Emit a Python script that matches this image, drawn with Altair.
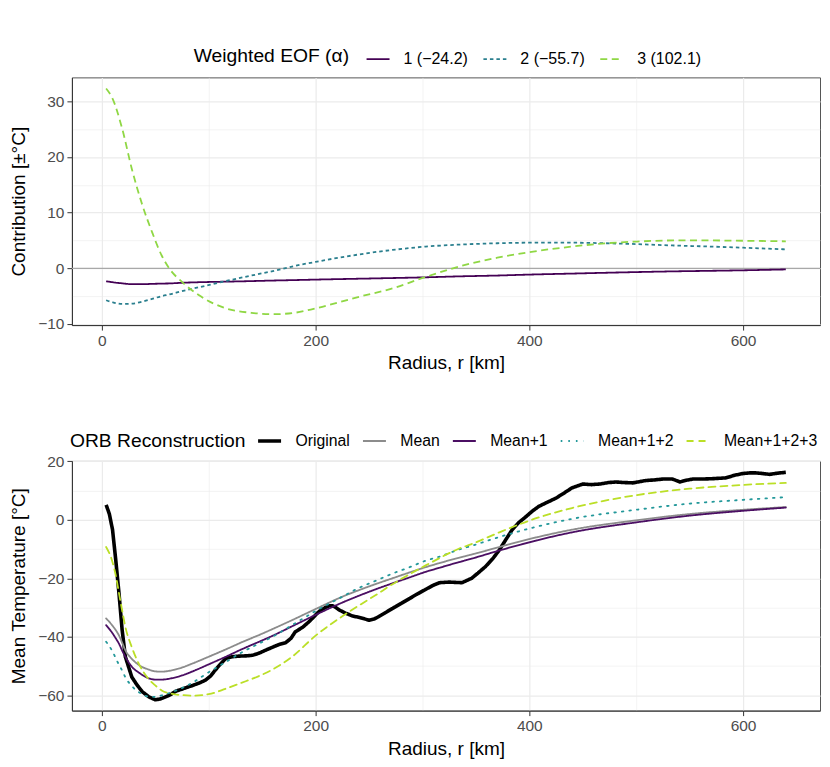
import altair as alt
import pandas as pd

# ---------------- data ----------------
eof_labels = ["1 (−24.2)", "2 (−55.7)", "3 (102.1)"]
radius_eof = [4, 10, 19, 28, 38, 47, 56, 63, 75, 91, 116, 140, 160, 180, 200, 241,
              272, 303, 334, 370, 400, 440, 472, 500, 535, 570, 600, 640]
eof1 = [-2.33, -2.5, -2.7, -2.85, -2.85, -2.8, -2.75, -2.72, -2.6, -2.5, -2.4, -2.3,
        -2.2, -2.12, -2.03, -1.87, -1.75, -1.62, -1.45, -1.3, -1.13, -0.95, -0.8,
        -0.68, -0.55, -0.45, -0.36, -0.2]
eof2 = [-5.74, -6.1, -6.4, -6.35, -6.0, -5.5, -5.0, -4.7, -4.1, -3.4, -2.3, -1.3,
        -0.5, 0.4, 1.15, 2.5, 3.3, 3.9, 4.25, 4.5, 4.6, 4.6, 4.5, 4.35, 4.1, 3.9,
        3.7, 3.4]
eof3 = [32.3, 30.5, 25.1, 17.9, 11.3, 6.5, 2.3, 0.0, -2.45, -4.85, -7.2, -8.0,
        -8.25, -8.0, -7.2, -5.1, -3.6, -1.55, 0.3, 1.9, 2.9, 3.9, 4.5, 4.8, 5.0,
        5.0, 4.95, 4.85]
zero_line = [0]

rec_labels = ["Original", "Mean", "Mean+1", "Mean+1+2", "Mean+1+2+3"]
radius_rec = [4, 10, 13, 16, 19, 22, 28, 35, 44, 50, 56, 66, 75, 85, 100, 116, 130,
              147, 160, 178, 200, 225, 241, 256, 272, 288, 303, 316, 334, 346, 372,
              400, 440, 500, 550, 600, 640]
temp_mean = [-33.7, -36.2, -37.7, -39.5, -42.0, -44.6, -47.5, -49.7, -51.2, -51.8,
             -51.9, -51.4, -50.5, -49.1, -46.8, -44.3, -42.0, -39.4, -37.3, -34.3,
             -30.5, -26.3, -24.0, -22.0, -20.0, -18.0, -16.2, -14.8, -13.0, -11.9,
             -9.3, -6.6, -3.4, -0.2, 1.95, 3.4, 4.35]
temp_mean1 = [-36.0, -38.8, -40.5, -42.3, -44.7, -46.8, -50.2, -52.3, -54.2, -54.6,
              -54.6, -54.1, -53.2, -51.8, -49.4, -46.8, -44.4, -41.7, -39.6, -36.4,
              -32.5, -28.3, -25.9, -23.8, -21.7, -19.7, -17.8, -16.4, -14.5, -13.3,
              -10.5, -7.7, -4.3, -0.9, 1.4, 3.05, 4.15]
temp_mean12 = [-41.7, -45.0, -47.3, -49.5, -51.5, -53.8, -56.8, -59.0, -60.4, -60.5,
               -60.0, -58.8, -57.5, -55.6, -52.1, -48.6, -45.5, -42.3, -39.9, -36.0,
               -31.2, -26.3, -23.2, -20.9, -18.4, -16.2, -14.0, -12.6, -10.2, -8.9,
               -5.9, -3.0, 0.3, 3.4, 5.5, 6.8, 7.7]
temp_mean123 = [-9.3, -14.5, -19.0, -25.0, -31.0, -36.6, -43.5, -49.5, -54.5, -56.6,
                -58.3, -59.5, -59.9, -60.1, -59.6, -57.7, -55.8, -53.4, -51.1, -46.8,
                -39.6, -33.0, -29.2, -25.8, -22.0, -18.6, -15.6, -13.1, -9.9, -8.3,
                -4.3, -0.3, 4.0, 8.4, 10.6, 11.9, 12.6]

radius_orig = [4, 7, 10, 13, 16, 19, 22, 28, 33, 38,
               44, 50, 55, 59, 64, 69, 77, 85, 91, 97,
               102, 106, 111, 116, 122, 128, 135, 141, 147, 153,
               160, 166, 172, 177, 181, 188, 194, 198, 203, 209,
               213, 216, 219, 222, 228, 234, 242, 250, 255, 259,
               265, 272, 280, 288, 295, 303, 310, 316, 325, 337,
               346, 352, 359, 366, 372, 378, 384, 390, 397, 403,
               409, 417, 425, 432, 440, 450, 458, 466, 474, 481,
               489, 497, 503, 509, 517, 525, 534, 541, 547, 553,
               560, 570, 584, 592, 600, 606, 612, 618, 625, 632, 640]
temp_orig = [5.1, 2.0, -3.4, -13.7, -25.0, -37.7, -46.8, -53.7, -56.5, -58.8,
             -60.5, -61.5, -61.2, -60.6, -59.8, -58.6, -57.6, -56.6, -55.8, -54.8,
             -53.3, -51.4, -49.3, -47.4, -46.8, -46.6, -46.5, -46.3, -45.6, -44.6,
             -43.5, -42.6, -42.0, -40.5, -38.3, -36.7, -34.8, -33.3, -31.4, -30.0,
             -29.4, -29.4, -30.0, -30.8, -31.9, -32.8, -33.5, -34.3, -33.9, -33.1,
             -31.8, -30.3, -28.6, -26.9, -25.4, -23.8, -22.4, -21.5, -21.3, -21.5,
             -20.0, -18.2, -16.0, -13.2, -10.3, -6.8, -3.4, -1.0, 1.1, 3.0,
             4.6, 6.0, 7.4, 9.0, 10.9, 12.2, 12.0, 12.2, 12.7, 12.9,
             12.7, 12.6, 13.0, 13.4, 13.6, 13.9, 13.9, 12.9, 13.5, 13.9,
             13.9, 14.0, 14.3, 15.2, 15.8, 16.0, 16.0, 15.8, 15.5, 15.9, 16.2]

x_ticks = [0, 100, 200, 300, 400, 500, 600]
top_y_ticks = [-10, -5, 0, 5, 10, 15, 20, 25, 30]
bot_y_ticks = [-60, -50, -40, -30, -20, -10, 0, 10, 20]

# ---------------- tables ----------------
top_df = pd.concat([
    pd.DataFrame({"r": radius_eof, "v": vals, "s": lab})
    for vals, lab in zip([eof1, eof2, eof3], eof_labels)
], ignore_index=True)
zero_df = pd.DataFrame({"v": zero_line})

orig_df = pd.DataFrame({"r": radius_orig, "v": temp_orig, "s": rec_labels[0]})
smooth_df = pd.concat([
    pd.DataFrame({"r": radius_rec, "v": vals, "s": lab})
    for vals, lab in zip([temp_mean, temp_mean1, temp_mean12, temp_mean123], rec_labels[1:])
], ignore_index=True)

# ---------------- styling helpers ----------------
FONT = "Liberation Sans"
W, H_TOP, H_BOT = 749, 248, 250


def grid_axis(title, values, major, extra=None):
    test = f"datum.value % {major} !== 0"
    kw = dict(
        title=title,
        values=values,
        labelExpr=f"datum.value % {major} === 0 ? datum.label : ''",
        gridWidth={"condition": {"test": test, "value": 0.6}, "value": 1.2},
        tickOpacity={"condition": {"test": test, "value": 0}, "value": 1},
    )
    if extra:
        kw.update(extra)
    return alt.Axis(**kw)


x_enc = alt.X("r:Q", scale=alt.Scale(domain=[-28, 672], nice=False, zero=False),
              axis=grid_axis("Radius, r [km]", x_ticks, 200, {"titlePadding": 5}))

# ---------------- top panel ----------------
top_y = alt.Y("v:Q", scale=alt.Scale(domain=[-10.2, 34.3], nice=False, zero=False),
              axis=grid_axis("Contribution [±°C]", top_y_ticks, 10, {"titlePadding": 9}))

top_legend = alt.Legend(
    title="Weighted EOF (α)", orient="none", legendX=122, legendY=-31,
    direction="horizontal", titleOrient="left", titlePadding=16,
    symbolSize=529, symbolStrokeWidth=1.8, labelOffset=13, columnPadding=11,
    labelFontSize=16, titleFontSize=19.3, titleFontWeight="normal",
    labelColor="black", titleColor="black", titleBaseline="middle",
)

zero_rule = alt.Chart(zero_df).mark_rule(color="#A8A8A8", strokeWidth=1.3).encode(y=top_y)

top_lines = alt.Chart(top_df).mark_line(interpolate="monotone", strokeWidth=1.8, clip=True).encode(
    x=x_enc,
    y=top_y,
    color=alt.Color("s:N", scale=alt.Scale(domain=eof_labels,
                                           range=["#440154", "#2A7F8E", "#8FD744"]),
                    legend=top_legend),
    strokeDash=alt.StrokeDash("s:N", scale=alt.Scale(domain=eof_labels,
                                                     range=[[1, 0], [3.5, 3], [7, 4.5]]),
                              legend=top_legend),
)

top = alt.layer(zero_rule, top_lines).properties(width=W, height=H_TOP)

# ---------------- bottom panel ----------------
bot_y = alt.Y("v:Q", scale=alt.Scale(domain=[-65.2, 20.1], nice=False, zero=False),
              axis=grid_axis("Mean Temperature [°C]", bot_y_ticks, 20, {"titlePadding": 9}))

bot_legend = alt.Legend(
    title="ORB Reconstruction", orient="none", legendX=-2, legendY=-28,
    direction="horizontal", titleOrient="left", titlePadding=16,
    symbolSize=529,
    symbolStrokeWidth={"expr": "datum.label === 'Original' ? 3.6 : 1.8"},
    labelOffset=18, columnPadding=8,
    labelFontSize=15.8, titleFontSize=19.3, titleFontWeight="normal",
    labelColor="black", titleColor="black", titleBaseline="middle",
)

rec_colors = ["#000000", "#8C8C8C", "#4B0F63", "#23989A", "#BBDF27"]
rec_dash = [[1, 0], [1, 0], [1, 0], [1.6, 6], [7, 5]]

color_enc = alt.Color("s:N", scale=alt.Scale(domain=rec_labels, range=rec_colors), legend=bot_legend)
dash_enc = alt.StrokeDash("s:N", scale=alt.Scale(domain=rec_labels, range=rec_dash), legend=bot_legend)

orig_line = alt.Chart(orig_df).mark_line(strokeWidth=3.6, strokeJoin="round", clip=True).encode(
    x=x_enc, y=bot_y, color=color_enc, strokeDash=dash_enc)

smooth_lines = alt.Chart(smooth_df).mark_line(interpolate="monotone", strokeWidth=1.8,
                                              strokeCap="round", clip=True).encode(
    x=x_enc, y=bot_y, color=color_enc, strokeDash=dash_enc)

bottom = alt.layer(orig_line, smooth_lines).properties(width=W, height=H_BOT)

chart = alt.vconcat(top, bottom, spacing=59).resolve_scale(
    color="independent", strokeDash="independent", x="independent", y="independent"
).resolve_legend(color="independent", strokeDash="independent").properties(
    padding={"top": 37, "left": 1, "right": 0, "bottom": 4}
).configure(font=FONT).configure_view(
    stroke="#555555", strokeWidth=1
).configure_axis(
    labelFontSize=15.5, labelColor="#4D4D4D", labelFont=FONT,
    titleFontSize=19, titleFontWeight="normal", titleColor="black", titleFont=FONT,
    tickColor="#333333", tickSize=5, labelPadding=3, domainColor="#333333",
    gridColor="#EBEBEB",
).configure_legend(labelFont=FONT, titleFont=FONT)

chart.save("out.html", embed_options={"renderer": "svg", "actions": False})
